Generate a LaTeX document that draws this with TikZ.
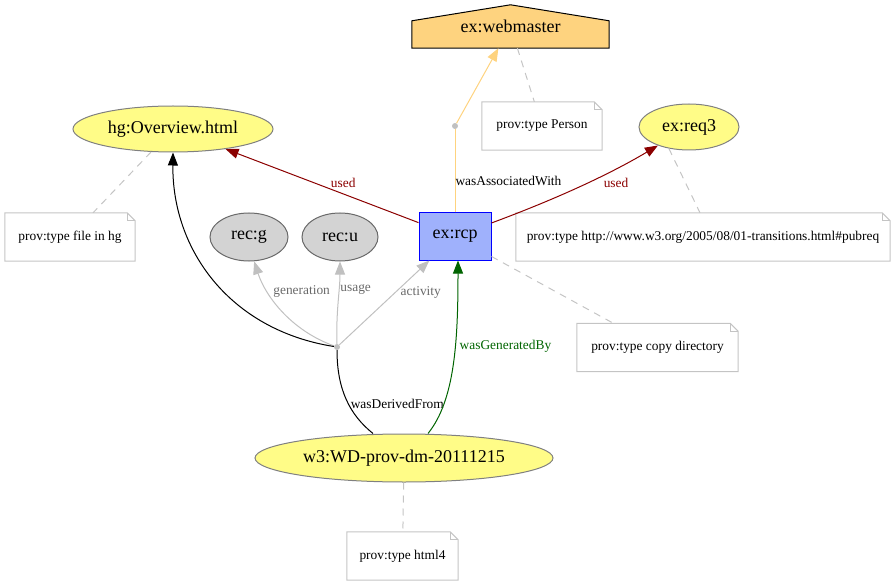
\documentclass[tikz,border=0pt]{standalone}
\usepackage{fontspec}
\setmainfont{Liberation Serif}
\usetikzlibrary{arrows.meta,positioning,calc,shapes.geometric,backgrounds}
\definecolor{entfill}{HTML}{FFFC87}
\definecolor{entline}{HTML}{808080}
\definecolor{actfill}{HTML}{9FB1FC}
\definecolor{actline}{HTML}{0000FF}
\definecolor{agentfill}{HTML}{FED37F}
\definecolor{recfill}{HTML}{D3D3D3}
\definecolor{recline}{HTML}{696969}
\definecolor{usedred}{HTML}{8B0000}
\definecolor{gengreen}{HTML}{006400}
\definecolor{qualgrey}{HTML}{C0C0C0}
\definecolor{qualtext}{HTML}{696969}
\definecolor{notegrey}{HTML}{C4C4C4}
\newcommand{\provnodefont}{\rmfamily\fontsize{18}{20}\selectfont}
\newcommand{\provlblfont}{\rmfamily\fontsize{13.4}{15}\selectfont}

\begin{document}
\begin{tikzpicture}[
  x=1pt, y=1pt,
  >={Triangle[length=13pt,width=10pt]},
  entnode/.style={ellipse, draw=entline, fill=entfill, inner sep=0pt,
                  minimum height=46pt, font=\provnodefont, line width=1pt},
  recnode/.style={ellipse, draw=recline, fill=recfill, inner sep=0pt,
                  minimum height=48pt, font=\provnodefont, line width=1pt},
  actnode/.style={rectangle, draw=actline, fill=actfill, minimum width=72pt,
                  minimum height=47pt, font=\provnodefont, line width=1pt},
  agentbox/.style={rectangle, minimum width=197pt, minimum height=43pt,
                   inner sep=0pt, font=\provnodefont},
  notebox/.style={rectangle, minimum height=48pt, inner sep=0pt, font=\provlblfont},
  pointnode/.style={circle, fill=qualgrey, inner sep=0pt, minimum size=6pt},
  lbl/.style={font=\provlblfont, inner sep=0pt, text=black},
  usedflow/.style={->, line width=1pt, usedred},
  genflow/.style={->, line width=1pt, gengreen},
  derflow/.style={line width=1pt, black},
  assocflow/.style={line width=1pt, agentfill},
  qualflow/.style={->, line width=1pt, qualgrey},
  annot/.style={line width=1pt, notegrey, dash pattern=on 7pt off 6pt},
]
\useasboundingbox (0,0) rectangle (896,-585);

% --- agent, entities, activity ---
\node[agentbox] (wm) at (510.5,-26.5) {ex:webmaster};
\node[entnode, minimum width=200pt] (hg) at (173,-129) {hg:Overview.html};
\node[entnode, minimum width=100pt] (req3) at (689,-127) {ex:req3};
\node[actnode] (rcp) at (455,-236.5) {ex:rcp};
\node[recnode, minimum width=78pt] (recg) at (249,-237) {rec:g};
\node[recnode, minimum width=76pt] (recu) at (340,-237) {rec:u};
\node[entnode, minimum width=298pt, minimum height=48pt] (w3) at (404,-458) {w3:WD-prov-dm-20111215};

% --- blank points of qualified relations ---
\node[pointnode] (d1) at (455,-126) {};
\node[pointnode] (d2) at (337,-347) {};

% --- notes ---
\node[notebox, minimum width=120pt] (nPerson) at (542,-126) {prov:type Person};
\node[notebox, minimum width=130pt] (nHg) at (70,-237) {prov:type file in hg};
\node[notebox, minimum width=374pt] (nReq) at (703,-237) {prov:type http://www.w3.org/2005/08/01-transitions.html\#pubreq};
\node[notebox, minimum width=161pt] (nCopy) at (657.5,-347.5) {prov:type copy directory};
\node[notebox, minimum width=111pt] (nHtml) at (402.5,-556) {prov:type html4};

\begin{scope}[on background layer]
  \draw[fill=agentfill, line width=1pt] (wm.south west) -- ([yshift=-16pt]wm.north west)
    -- (wm.north) -- ([yshift=-16pt]wm.north east) -- (wm.south east) -- cycle;
\end{scope}

\foreach \n in {nPerson,nHg,nReq,nCopy,nHtml}{
  \draw[notegrey, line width=1pt] (\n.south west) -- (\n.north west) -- ([xshift=-8pt]\n.north east)
    -- ([yshift=-8pt]\n.north east) -- (\n.south east) -- cycle;
  \draw[notegrey, line width=1pt] ([xshift=-8pt]\n.north east) |- ([yshift=-8pt]\n.north east);
}

% --- association ---
\draw[assocflow, ->] (d1) -- (wm);
\draw[assocflow] (rcp) -- node[lbl, pos=0.38, anchor=west]{wasAssociatedWith} (d1);

% --- usage ---
\draw[usedflow] (rcp) -- node[lbl, pos=0.39, above=6pt, text=usedred]{used} (hg);
\draw[usedflow] (rcp) .. controls (540,-205) and (600,-180) ..
  node[lbl, pos=0.76, below=9pt, text=usedred]{used} (req3);

% --- qualified derivation ---
\draw[qualflow] (d2) .. controls (290,-330) and (265,-295) ..
  node[lbl, pos=0.7, anchor=west, xshift=5pt, text=qualtext]{generation} (recg.-78);
\draw[qualflow] (d2) .. controls (336,-310) and (340,-290) ..
  node[lbl, pos=0.65, anchor=west, xshift=1pt, text=qualtext]{usage} (recu.south);
\draw[qualflow] (d2) -- node[lbl, pos=0.62, anchor=west, xshift=5pt, text=qualtext]{activity} (rcp);
\draw[derflow, ->] (d2) .. controls (230,-330) and (172,-250) .. (hg.south);
\draw[derflow] ([xshift=-31pt]w3.north) .. controls (350,-415) and (337,-390) ..
  node[lbl, pos=0.45, anchor=west, xshift=2pt]{wasDerivedFrom} (d2);

% --- generation ---
\draw[genflow] ([xshift=24pt]w3.north) .. controls (455,-400) and (458,-340) ..
  node[lbl, pos=0.6, anchor=west, xshift=4pt, text=gengreen]{wasGeneratedBy} ([xshift=3pt]rcp.south);

% --- annotations ---
\draw[annot] (wm) -- (nPerson);
\draw[annot] (hg) -- (nHg);
\draw[annot] (req3.-133) -- ([xshift=-3pt]nReq.north);
\draw[annot] (rcp) -- (nCopy);
\draw[annot] (w3) -- (nHtml);

\end{tikzpicture}
\end{document}
